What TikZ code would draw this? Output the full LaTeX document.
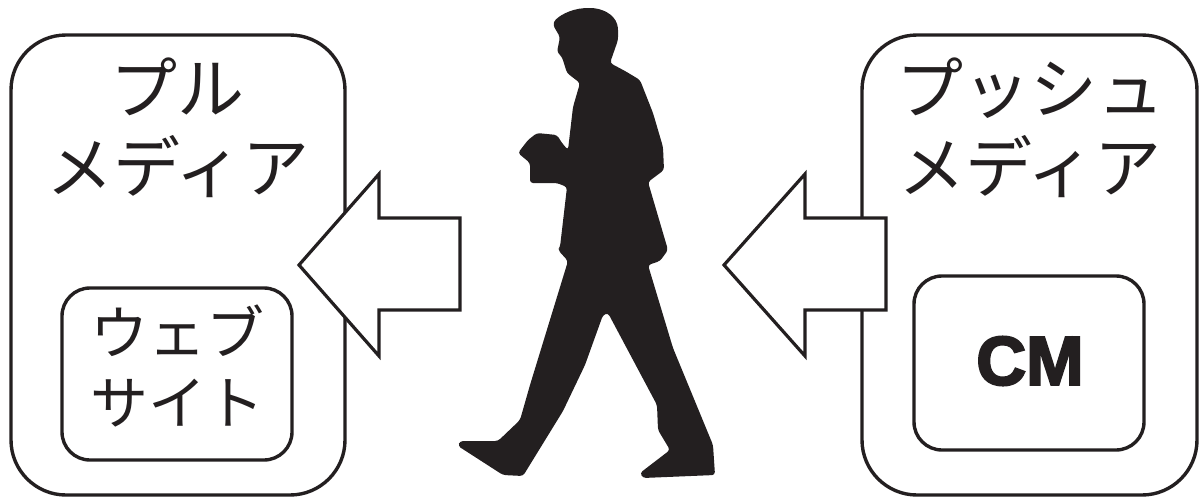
\documentclass[tikz,border=0pt]{standalone}
\usepackage{fontspec}
\newfontfamily\jpfont{Noto Sans CJK JP}
\newfontfamily\cmfont[FakeBold=3.2]{Liberation Sans Bold}
\definecolor{ink}{HTML}{231F20}
\tikzset{
  x=1pt,y=-1pt,
  box/.style={draw=ink,line width=3.4pt,fill=white,rounded corners=#1},
  arrowshape/.style={draw=ink,line width=3.2pt,fill=white,line join=miter},
  lab/.style={font=\jpfont\fontsize{67}{79}\selectfont,text=ink,inner sep=0pt,align=center},
  sublab/.style={font=\jpfont\fontsize{58}{70}\selectfont,text=ink,inner sep=0pt,align=center},
}
\begin{document}
\begin{tikzpicture}
\useasboundingbox (0,0) rectangle (1202,498);
\draw[box=55pt] (11,35) rectangle (345,495);
\draw[box=55pt] (862,35) rectangle (1197,495);
\draw[box=28pt] (62,288) rectangle (292,460);
\draw[box=28pt] (914,276) rectangle (1144,450);
\draw[arrowshape] (299,265) -- (379,174) -- (379,218) -- (460,218) -- (460,310) -- (379,310) -- (379,356) -- cycle;
\draw[arrowshape] (724,265) -- (805,174) -- (805,218) -- (886,218) -- (886,310) -- (805,310) -- (805,356) -- cycle;
\node[lab] (pull) at (178,128) {プル\\メディア};
\node[lab] (push) at (1030,128) {プッシュ\\メディア};
\node[sublab] (web) at (177,366) {ウェブ\\サイト};
\node[inner sep=0pt,text=ink,font=\cmfont\fontsize{69}{70}\selectfont] (cm) at (1030,361) {CM};
\fill[ink,rounded corners=3pt] (553,25) .. controls (556,17) and (570,9) .. (587,8) .. controls (602,8) and (614,14) .. (618,27)
 -- (618,40) -- (610,63) -- (625,71) -- (640,80) -- (653,113) -- (663,147) -- (664,170) -- (648,182) -- (668,250) -- (660,261) -- (648,265)
 -- (673,348) -- (713,445) -- (715,475) -- (643,478) -- (640,473) -- (670,450) -- (658,430) -- (657,405) -- (608,313) -- (603,315)
 -- (585,365) -- (563,411) -- (523,476) -- (503,475) -- (458,446) -- (460,441) -- (498,441) -- (520,420) -- (530,385) -- (568,261)
 -- (558,250) -- (560,247) -- (567,187) -- (557,183) -- (530,183) -- (530,163) -- (518,153) -- (528,140) -- (537,133) -- (557,135)
 -- (562,143) -- (568,150) -- (573,107) -- (580,83) -- (567,73) -- (562,57) -- (557,52) -- (560,37) -- cycle;
\end{tikzpicture}
\end{document}
